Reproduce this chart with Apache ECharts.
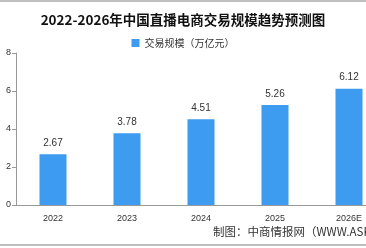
<!DOCTYPE html>
<html>
<head>
<meta charset="utf-8">
<script src="https://cdn.jsdelivr.net/npm/echarts@6/dist/echarts.min.js"></script>
<style>
  html, body { margin: 0; padding: 0; background: #fff; }
  #chart { width: 366px; height: 248px; }
</style>
</head>
<body>
<div id="chart"></div>
<script>
const years = ['2022', '2023', '2024', '2025', '2026E']
const scale = [2.67, 3.78, 4.51, 5.26, 6.12]
const seriesName = '交易规模（万亿元）'

let chart = echarts.init(document.getElementById('chart'), null, { renderer: 'canvas' })

chart.setOption({
  animation: false,
  title: {
    text: '2022-2026年中国直播电商交易规模趋势预测图',
    left: 'center',
    top: 8,
    textStyle: {
      fontFamily: 'Noto Sans CJK SC',
      fontSize: 13.5,
      fontWeight: 'bold',
      color: '#111'
    }
  },
  legend: {
    top: 33,
    left: 'center',
    itemWidth: 8,
    itemHeight: 8,
    itemGap: 4,
    textStyle: { fontFamily: 'Noto Sans CJK SC', fontSize: 10, color: '#333' },
    data: [{ name: seriesName, icon: 'rect' }]
  },
  // plot area runs past the right edge, as in the reference
  grid: { left: 16, width: 370, top: 53, height: 152, outerBoundsMode: 'none' },
  xAxis: {
    type: 'category',
    data: years,
    axisLine: { lineStyle: { color: '#999' } },
    axisTick: { lineStyle: { color: '#999' } },
    axisLabel: { color: '#333', fontSize: 9, fontFamily: 'Liberation Sans', margin: 9 }
  },
  yAxis: {
    type: 'value',
    min: 0,
    max: 8,
    interval: 2,
    splitLine: { show: false },
    axisLine: { show: true, lineStyle: { color: '#999' } },
    axisTick: { show: true, length: 4, lineStyle: { color: '#999' } },
    axisLabel: { color: '#333', fontSize: 9, fontFamily: 'Liberation Sans', margin: 5 }
  },
  series: [
    {
      name: seriesName,
      type: 'bar',
      data: scale,
      barWidth: 27,
      itemStyle: { color: '#3d9bf0' },
      label: {
        show: true,
        position: 'top',
        distance: 6,
        color: '#333',
        fontSize: 10,
        fontFamily: 'Liberation Sans',
        formatter: p => p.value.toFixed(2)
      }
    }
  ],
  graphic: [
    { type: 'line', shape: { x1: 0, y1: 1, x2: 366, y2: 1 }, style: { stroke: '#aaa', lineWidth: 1.5 } },
    { type: 'line', shape: { x1: 0, y1: 245, x2: 366, y2: 245 }, style: { stroke: '#aaa', lineWidth: 1.5 } },
    {
      type: 'text',
      left: 213,
      top: 226,
      style: {
        text: '制图：中商情报网（WWW.ASKCI.COM）',
        font: '11.5px "Liberation Sans Narrow", "Noto Sans CJK SC"',
        fill: '#333'
      }
    }
  ]
})
</script>
</body>
</html>
